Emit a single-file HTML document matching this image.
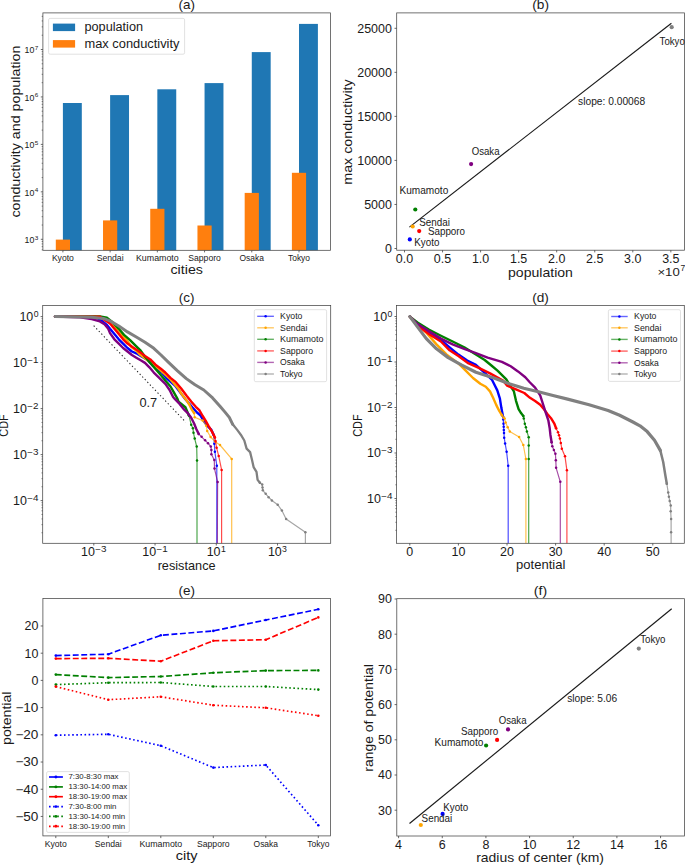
<!DOCTYPE html>
<html><head><meta charset="utf-8"><title>figure</title>
<style>
html,body{margin:0;padding:0;background:#fff;width:685px;height:865px;overflow:hidden;}
svg{display:block;}
text{font-family:"Liberation Sans",sans-serif;}
</style></head><body>
<svg width="685" height="865" viewBox="0 0 685 865">
<rect width="685" height="865" fill="#fff"/>
<rect x="62.90" y="103.00" width="18.90" height="147.30" fill="#1f77b4"/>
<rect x="110.12" y="95.10" width="18.90" height="155.20" fill="#1f77b4"/>
<rect x="157.34" y="89.30" width="18.90" height="161.00" fill="#1f77b4"/>
<rect x="204.56" y="83.10" width="18.90" height="167.20" fill="#1f77b4"/>
<rect x="251.78" y="52.10" width="18.90" height="198.20" fill="#1f77b4"/>
<rect x="299.00" y="23.90" width="18.90" height="226.40" fill="#1f77b4"/>
<rect x="55.80" y="239.60" width="14.20" height="10.70" fill="#ff7f0e"/>
<rect x="103.02" y="220.40" width="14.20" height="29.90" fill="#ff7f0e"/>
<rect x="150.24" y="208.80" width="14.20" height="41.50" fill="#ff7f0e"/>
<rect x="197.46" y="225.50" width="14.20" height="24.80" fill="#ff7f0e"/>
<rect x="244.68" y="192.90" width="14.20" height="57.40" fill="#ff7f0e"/>
<rect x="291.90" y="172.80" width="14.20" height="77.50" fill="#ff7f0e"/>
<rect x="42.90" y="12.90" width="287.60" height="237.40" fill="none" stroke="#444" stroke-width="0.75"/>
<line x1="40.80" y1="239.30" x2="42.90" y2="239.30" stroke="#444" stroke-width="0.80"/>
<line x1="40.80" y1="191.85" x2="42.90" y2="191.85" stroke="#444" stroke-width="0.80"/>
<line x1="40.80" y1="144.40" x2="42.90" y2="144.40" stroke="#444" stroke-width="0.80"/>
<line x1="40.80" y1="96.95" x2="42.90" y2="96.95" stroke="#444" stroke-width="0.80"/>
<line x1="40.80" y1="49.50" x2="42.90" y2="49.50" stroke="#444" stroke-width="0.80"/>
<line x1="41.70" y1="249.83" x2="42.90" y2="249.83" stroke="#444" stroke-width="0.70"/>
<line x1="41.70" y1="246.65" x2="42.90" y2="246.65" stroke="#444" stroke-width="0.70"/>
<line x1="41.70" y1="243.90" x2="42.90" y2="243.90" stroke="#444" stroke-width="0.70"/>
<line x1="41.70" y1="241.47" x2="42.90" y2="241.47" stroke="#444" stroke-width="0.70"/>
<line x1="41.70" y1="225.02" x2="42.90" y2="225.02" stroke="#444" stroke-width="0.70"/>
<line x1="41.70" y1="216.66" x2="42.90" y2="216.66" stroke="#444" stroke-width="0.70"/>
<line x1="41.70" y1="210.73" x2="42.90" y2="210.73" stroke="#444" stroke-width="0.70"/>
<line x1="41.70" y1="206.13" x2="42.90" y2="206.13" stroke="#444" stroke-width="0.70"/>
<line x1="41.70" y1="202.38" x2="42.90" y2="202.38" stroke="#444" stroke-width="0.70"/>
<line x1="41.70" y1="199.20" x2="42.90" y2="199.20" stroke="#444" stroke-width="0.70"/>
<line x1="41.70" y1="196.45" x2="42.90" y2="196.45" stroke="#444" stroke-width="0.70"/>
<line x1="41.70" y1="194.02" x2="42.90" y2="194.02" stroke="#444" stroke-width="0.70"/>
<line x1="41.70" y1="177.57" x2="42.90" y2="177.57" stroke="#444" stroke-width="0.70"/>
<line x1="41.70" y1="169.21" x2="42.90" y2="169.21" stroke="#444" stroke-width="0.70"/>
<line x1="41.70" y1="163.28" x2="42.90" y2="163.28" stroke="#444" stroke-width="0.70"/>
<line x1="41.70" y1="158.68" x2="42.90" y2="158.68" stroke="#444" stroke-width="0.70"/>
<line x1="41.70" y1="154.93" x2="42.90" y2="154.93" stroke="#444" stroke-width="0.70"/>
<line x1="41.70" y1="151.75" x2="42.90" y2="151.75" stroke="#444" stroke-width="0.70"/>
<line x1="41.70" y1="149.00" x2="42.90" y2="149.00" stroke="#444" stroke-width="0.70"/>
<line x1="41.70" y1="146.57" x2="42.90" y2="146.57" stroke="#444" stroke-width="0.70"/>
<line x1="41.70" y1="130.12" x2="42.90" y2="130.12" stroke="#444" stroke-width="0.70"/>
<line x1="41.70" y1="121.76" x2="42.90" y2="121.76" stroke="#444" stroke-width="0.70"/>
<line x1="41.70" y1="115.83" x2="42.90" y2="115.83" stroke="#444" stroke-width="0.70"/>
<line x1="41.70" y1="111.23" x2="42.90" y2="111.23" stroke="#444" stroke-width="0.70"/>
<line x1="41.70" y1="107.48" x2="42.90" y2="107.48" stroke="#444" stroke-width="0.70"/>
<line x1="41.70" y1="104.30" x2="42.90" y2="104.30" stroke="#444" stroke-width="0.70"/>
<line x1="41.70" y1="101.55" x2="42.90" y2="101.55" stroke="#444" stroke-width="0.70"/>
<line x1="41.70" y1="99.12" x2="42.90" y2="99.12" stroke="#444" stroke-width="0.70"/>
<line x1="41.70" y1="82.67" x2="42.90" y2="82.67" stroke="#444" stroke-width="0.70"/>
<line x1="41.70" y1="74.31" x2="42.90" y2="74.31" stroke="#444" stroke-width="0.70"/>
<line x1="41.70" y1="68.38" x2="42.90" y2="68.38" stroke="#444" stroke-width="0.70"/>
<line x1="41.70" y1="63.78" x2="42.90" y2="63.78" stroke="#444" stroke-width="0.70"/>
<line x1="41.70" y1="60.03" x2="42.90" y2="60.03" stroke="#444" stroke-width="0.70"/>
<line x1="41.70" y1="56.85" x2="42.90" y2="56.85" stroke="#444" stroke-width="0.70"/>
<line x1="41.70" y1="54.10" x2="42.90" y2="54.10" stroke="#444" stroke-width="0.70"/>
<line x1="41.70" y1="51.67" x2="42.90" y2="51.67" stroke="#444" stroke-width="0.70"/>
<line x1="41.70" y1="35.22" x2="42.90" y2="35.22" stroke="#444" stroke-width="0.70"/>
<line x1="41.70" y1="26.86" x2="42.90" y2="26.86" stroke="#444" stroke-width="0.70"/>
<line x1="41.70" y1="20.93" x2="42.90" y2="20.93" stroke="#444" stroke-width="0.70"/>
<line x1="41.70" y1="16.33" x2="42.90" y2="16.33" stroke="#444" stroke-width="0.70"/>
<text x="24.64" y="243.00" font-size="8.55" textLength="9.80" lengthAdjust="spacingAndGlyphs" fill="#1a1a1a">10</text>
<text x="34.67" y="239.77" font-size="6.15" textLength="3.53" lengthAdjust="spacingAndGlyphs" fill="#1a1a1a">3</text>
<text x="24.64" y="195.55" font-size="8.55" textLength="9.80" lengthAdjust="spacingAndGlyphs" fill="#1a1a1a">10</text>
<text x="34.67" y="192.32" font-size="6.15" textLength="3.53" lengthAdjust="spacingAndGlyphs" fill="#1a1a1a">4</text>
<text x="24.64" y="148.10" font-size="8.55" textLength="9.80" lengthAdjust="spacingAndGlyphs" fill="#1a1a1a">10</text>
<text x="34.67" y="144.87" font-size="6.15" textLength="3.53" lengthAdjust="spacingAndGlyphs" fill="#1a1a1a">5</text>
<text x="24.64" y="100.65" font-size="8.55" textLength="9.80" lengthAdjust="spacingAndGlyphs" fill="#1a1a1a">10</text>
<text x="34.67" y="97.42" font-size="6.15" textLength="3.53" lengthAdjust="spacingAndGlyphs" fill="#1a1a1a">6</text>
<text x="24.64" y="53.20" font-size="8.55" textLength="9.80" lengthAdjust="spacingAndGlyphs" fill="#1a1a1a">10</text>
<text x="34.67" y="49.97" font-size="6.15" textLength="3.53" lengthAdjust="spacingAndGlyphs" fill="#1a1a1a">7</text>
<line x1="62.90" y1="250.30" x2="62.90" y2="252.40" stroke="#444" stroke-width="0.80"/>
<line x1="110.12" y1="250.30" x2="110.12" y2="252.40" stroke="#444" stroke-width="0.80"/>
<line x1="157.34" y1="250.30" x2="157.34" y2="252.40" stroke="#444" stroke-width="0.80"/>
<line x1="204.56" y1="250.30" x2="204.56" y2="252.40" stroke="#444" stroke-width="0.80"/>
<line x1="251.78" y1="250.30" x2="251.78" y2="252.40" stroke="#444" stroke-width="0.80"/>
<line x1="299.00" y1="250.30" x2="299.00" y2="252.40" stroke="#444" stroke-width="0.80"/>
<text x="62.90" y="260.80" font-size="8.77" textLength="22.05" lengthAdjust="spacingAndGlyphs" text-anchor="middle" fill="#1a1a1a">Kyoto</text>
<text x="110.12" y="260.80" font-size="8.77" textLength="26.93" lengthAdjust="spacingAndGlyphs" text-anchor="middle" fill="#1a1a1a">Sendai</text>
<text x="157.34" y="260.80" font-size="8.77" textLength="42.79" lengthAdjust="spacingAndGlyphs" text-anchor="middle" fill="#1a1a1a">Kumamoto</text>
<text x="204.56" y="260.80" font-size="8.77" textLength="32.63" lengthAdjust="spacingAndGlyphs" text-anchor="middle" fill="#1a1a1a">Sapporo</text>
<text x="251.78" y="260.80" font-size="8.77" textLength="24.45" lengthAdjust="spacingAndGlyphs" text-anchor="middle" fill="#1a1a1a">Osaka</text>
<text x="299.00" y="260.80" font-size="8.77" textLength="22.12" lengthAdjust="spacingAndGlyphs" text-anchor="middle" fill="#1a1a1a">Tokyo</text>
<text x="186.70" y="273.60" font-size="13.65" textLength="32.40" lengthAdjust="spacingAndGlyphs" text-anchor="middle" fill="#1a1a1a">cities</text>
<text x="19.80" y="131.60" font-size="13.65" textLength="171.90" lengthAdjust="spacingAndGlyphs" text-anchor="middle" transform="rotate(-90 19.80 131.60)" fill="#1a1a1a">conductivity and population</text>
<text x="186.70" y="9.10" font-size="13.10" textLength="16.44" lengthAdjust="spacingAndGlyphs" text-anchor="middle" fill="#1a1a1a">(a)</text>
<rect x="48.60" y="18.40" width="136.00" height="35.80" rx="1.5" fill="#fff" fill-opacity="0.8" stroke="#d9d9d9" stroke-width="0.8"/>
<rect x="52.90" y="23.60" width="22.20" height="7.50" fill="#1f77b4"/>
<rect x="52.90" y="40.10" width="22.20" height="7.50" fill="#ff7f0e"/>
<text x="84.50" y="31.30" font-size="12.21" textLength="58.53" lengthAdjust="spacingAndGlyphs" fill="#1a1a1a">population</text>
<text x="84.50" y="47.90" font-size="12.21" textLength="94.97" lengthAdjust="spacingAndGlyphs" fill="#1a1a1a">max conductivity</text>
<rect x="396.70" y="12.90" width="287.70" height="237.30" fill="none" stroke="#444" stroke-width="0.75"/>
<line x1="394.50" y1="248.50" x2="396.70" y2="248.50" stroke="#444" stroke-width="0.80"/>
<line x1="394.50" y1="204.46" x2="396.70" y2="204.46" stroke="#444" stroke-width="0.80"/>
<line x1="394.50" y1="160.42" x2="396.70" y2="160.42" stroke="#444" stroke-width="0.80"/>
<line x1="394.50" y1="116.38" x2="396.70" y2="116.38" stroke="#444" stroke-width="0.80"/>
<line x1="394.50" y1="72.34" x2="396.70" y2="72.34" stroke="#444" stroke-width="0.80"/>
<line x1="394.50" y1="28.30" x2="396.70" y2="28.30" stroke="#444" stroke-width="0.80"/>
<text x="391.90" y="252.90" font-size="12.10" textLength="6.94" lengthAdjust="spacingAndGlyphs" text-anchor="end" fill="#1a1a1a">0</text>
<text x="391.90" y="208.86" font-size="12.10" textLength="27.74" lengthAdjust="spacingAndGlyphs" text-anchor="end" fill="#1a1a1a">5000</text>
<text x="391.90" y="164.82" font-size="12.10" textLength="34.68" lengthAdjust="spacingAndGlyphs" text-anchor="end" fill="#1a1a1a">10000</text>
<text x="391.90" y="120.78" font-size="12.10" textLength="34.68" lengthAdjust="spacingAndGlyphs" text-anchor="end" fill="#1a1a1a">15000</text>
<text x="391.90" y="76.74" font-size="12.10" textLength="34.68" lengthAdjust="spacingAndGlyphs" text-anchor="end" fill="#1a1a1a">20000</text>
<text x="391.90" y="32.70" font-size="12.10" textLength="34.68" lengthAdjust="spacingAndGlyphs" text-anchor="end" fill="#1a1a1a">25000</text>
<line x1="404.50" y1="250.20" x2="404.50" y2="252.40" stroke="#444" stroke-width="0.80"/>
<line x1="442.55" y1="250.20" x2="442.55" y2="252.40" stroke="#444" stroke-width="0.80"/>
<line x1="480.60" y1="250.20" x2="480.60" y2="252.40" stroke="#444" stroke-width="0.80"/>
<line x1="518.65" y1="250.20" x2="518.65" y2="252.40" stroke="#444" stroke-width="0.80"/>
<line x1="556.70" y1="250.20" x2="556.70" y2="252.40" stroke="#444" stroke-width="0.80"/>
<line x1="594.75" y1="250.20" x2="594.75" y2="252.40" stroke="#444" stroke-width="0.80"/>
<line x1="632.80" y1="250.20" x2="632.80" y2="252.40" stroke="#444" stroke-width="0.80"/>
<line x1="670.85" y1="250.20" x2="670.85" y2="252.40" stroke="#444" stroke-width="0.80"/>
<text x="404.50" y="263.40" font-size="12.10" textLength="17.34" lengthAdjust="spacingAndGlyphs" text-anchor="middle" fill="#1a1a1a">0.0</text>
<text x="442.55" y="263.40" font-size="12.10" textLength="17.34" lengthAdjust="spacingAndGlyphs" text-anchor="middle" fill="#1a1a1a">0.5</text>
<text x="480.60" y="263.40" font-size="12.10" textLength="17.34" lengthAdjust="spacingAndGlyphs" text-anchor="middle" fill="#1a1a1a">1.0</text>
<text x="518.65" y="263.40" font-size="12.10" textLength="17.34" lengthAdjust="spacingAndGlyphs" text-anchor="middle" fill="#1a1a1a">1.5</text>
<text x="556.70" y="263.40" font-size="12.10" textLength="17.34" lengthAdjust="spacingAndGlyphs" text-anchor="middle" fill="#1a1a1a">2.0</text>
<text x="594.75" y="263.40" font-size="12.10" textLength="17.34" lengthAdjust="spacingAndGlyphs" text-anchor="middle" fill="#1a1a1a">2.5</text>
<text x="632.80" y="263.40" font-size="12.10" textLength="17.34" lengthAdjust="spacingAndGlyphs" text-anchor="middle" fill="#1a1a1a">3.0</text>
<text x="670.85" y="263.40" font-size="12.10" textLength="17.34" lengthAdjust="spacingAndGlyphs" text-anchor="middle" fill="#1a1a1a">3.5</text>
<text x="540.50" y="276.90" font-size="13.54" textLength="64.92" lengthAdjust="spacingAndGlyphs" text-anchor="middle" fill="#1a1a1a">population</text>
<text x="351.80" y="132.00" font-size="13.54" textLength="105.33" lengthAdjust="spacingAndGlyphs" text-anchor="middle" transform="rotate(-90 351.80 132.00)" fill="#1a1a1a">max conductivity</text>
<text x="540.60" y="9.10" font-size="13.10" textLength="16.70" lengthAdjust="spacingAndGlyphs" text-anchor="middle" fill="#1a1a1a">(b)</text>
<text x="657.40" y="275.80" font-size="11.77" textLength="22.37" lengthAdjust="spacingAndGlyphs" fill="#1a1a1a">×10</text>
<text x="680.40" y="271.40" font-size="8.21" textLength="4.71" lengthAdjust="spacingAndGlyphs" fill="#1a1a1a">7</text>
<line x1="409.40" y1="227.10" x2="671.40" y2="23.20" stroke="#1a1a1a" stroke-width="1.15"/>
<circle cx="409.8" cy="239.4" r="2.10" fill="#0000ff"/>
<circle cx="412.7" cy="226.5" r="2.10" fill="#ffa500"/>
<circle cx="415.3" cy="209.5" r="2.10" fill="#008000"/>
<circle cx="419.2" cy="231.1" r="2.10" fill="#ff0000"/>
<circle cx="471.1" cy="164.1" r="2.10" fill="#800080"/>
<circle cx="671.7" cy="27.2" r="2.10" fill="#808080"/>
<text x="414.30" y="245.50" font-size="9.99" textLength="25.11" lengthAdjust="spacingAndGlyphs" fill="#1a1a1a">Kyoto</text>
<text x="419.20" y="226.30" font-size="9.99" textLength="30.68" lengthAdjust="spacingAndGlyphs" fill="#1a1a1a">Sendai</text>
<text x="399.50" y="194.00" font-size="9.99" textLength="48.75" lengthAdjust="spacingAndGlyphs" fill="#1a1a1a">Kumamoto</text>
<text x="427.90" y="234.70" font-size="9.99" textLength="37.17" lengthAdjust="spacingAndGlyphs" fill="#1a1a1a">Sapporo</text>
<text x="471.70" y="155.30" font-size="9.99" textLength="27.86" lengthAdjust="spacingAndGlyphs" fill="#1a1a1a">Osaka</text>
<text x="659.60" y="44.80" font-size="9.99" textLength="25.20" lengthAdjust="spacingAndGlyphs" fill="#1a1a1a">Tokyo</text>
<text x="578.10" y="104.70" font-size="9.99" textLength="67.06" lengthAdjust="spacingAndGlyphs" fill="#1a1a1a">slope: 0.00068</text>
<defs><clipPath id="cc"><rect x="42.70" y="305.60" width="288.00" height="237.70"/></clipPath><clipPath id="cd"><rect x="396.60" y="305.60" width="287.70" height="237.70"/></clipPath></defs>
<g clip-path="url(#cc)">
<polyline points="55.0,316.6 95.0,316.9 101.0,320.2 106.9,324.9 110.0,328.8 114.4,334.0 118.8,339.3 123.1,343.6 127.5,348.0 131.9,351.5 136.3,353.3 140.7,355.9 146.8,359.4 152.0,364.7 157.3,369.0 162.6,373.4 166.1,377.8 175.0,385.5 185.4,399.2 192.3,407.3 197.0,412.5 200.4,415.4 203.9,421.2 207.4,425.8 211.4,429.9 213.7,435.1" fill="none" stroke="#0000ff" stroke-width="2.40" stroke-linejoin="round" stroke-linecap="round"/>
<polyline points="213.7,435.1 214.3,443.8 214.9,451.8 216.8,465.7 216.8,544.0" fill="none" stroke="#0000ff" stroke-width="1.20" stroke-linejoin="round" stroke-linecap="round" stroke-opacity="0.7"/>
<circle cx="213.7" cy="435.1" r="1.25" fill="#0000ff"/>
<circle cx="214.3" cy="443.8" r="1.25" fill="#0000ff"/>
<circle cx="214.9" cy="451.8" r="1.25" fill="#0000ff"/>
<circle cx="216.8" cy="465.7" r="1.25" fill="#0000ff"/>
<polyline points="55.0,316.6 100.0,316.9 110.4,322.5 115.0,327.2 119.7,333.0 126.7,340.0 131.4,347.0 136.1,350.5 140.0,354.6 157.5,367.7 169.2,378.0 178.0,388.2 181.9,394.6 186.6,400.4 189.5,405.0 191.8,409.7 194.1,413.1" fill="none" stroke="#ffa500" stroke-width="2.40" stroke-linejoin="round" stroke-linecap="round"/>
<polyline points="194.1,413.1 194.7,417.2 202.7,420.6 206.2,425.7 207.2,431.0 210.6,437.0 215.5,442.0 220.0,445.0 231.7,458.9 231.7,544.0" fill="none" stroke="#ffa500" stroke-width="1.20" stroke-linejoin="round" stroke-linecap="round" stroke-opacity="0.7"/>
<circle cx="194.1" cy="413.1" r="1.25" fill="#ffa500"/>
<circle cx="194.7" cy="417.2" r="1.25" fill="#ffa500"/>
<circle cx="202.7" cy="420.6" r="1.25" fill="#ffa500"/>
<circle cx="206.2" cy="425.7" r="1.25" fill="#ffa500"/>
<circle cx="207.2" cy="431.0" r="1.25" fill="#ffa500"/>
<circle cx="210.6" cy="437.0" r="1.25" fill="#ffa500"/>
<circle cx="215.5" cy="442.0" r="1.25" fill="#ffa500"/>
<circle cx="220.0" cy="445.0" r="1.25" fill="#ffa500"/>
<circle cx="231.7" cy="458.9" r="1.25" fill="#ffa500"/>
<polyline points="55.0,316.6 99.9,316.4 106.9,317.8 111.5,321.4 118.8,328.8 124.0,334.9 130.1,340.1 136.3,346.3 140.7,350.7 145.0,356.8 150.3,362.9 155.5,369.0 160.8,375.0 165.3,380.4 170.5,386.5 174.0,392.7 177.5,398.8 178.5,401.6 185.4,407.3 188.9,415.4" fill="none" stroke="#008000" stroke-width="2.40" stroke-linejoin="round" stroke-linecap="round"/>
<polyline points="188.9,415.4 191.2,424.7 192.9,428.2 193.5,432.8 194.7,438.6 196.7,446.6 197.0,460.5 197.0,544.0" fill="none" stroke="#008000" stroke-width="1.20" stroke-linejoin="round" stroke-linecap="round" stroke-opacity="0.7"/>
<circle cx="188.9" cy="415.4" r="1.25" fill="#008000"/>
<circle cx="191.2" cy="424.7" r="1.25" fill="#008000"/>
<circle cx="192.9" cy="428.2" r="1.25" fill="#008000"/>
<circle cx="193.5" cy="432.8" r="1.25" fill="#008000"/>
<circle cx="194.7" cy="438.6" r="1.25" fill="#008000"/>
<circle cx="196.7" cy="446.6" r="1.25" fill="#008000"/>
<circle cx="197.0" cy="460.5" r="1.25" fill="#008000"/>
<polyline points="55.0,316.6 100.0,316.8 105.7,320.8 110.0,323.5 114.4,328.8 118.8,334.0 123.1,339.3 127.5,343.6 132.8,347.2 138.0,350.7 145.0,355.9 150.3,359.4 155.5,364.7 160.8,368.7 165.3,372.5 170.5,377.8 175.8,382.2 181.0,388.3 186.6,395.8 186.6,395.8 191.2,401.6 195.8,406.8 199.3,410.2 202.7,416.0 205.6,420.6 208.5,425.8 212.0,431.6 214.9,437.4" fill="none" stroke="#ff0000" stroke-width="2.40" stroke-linejoin="round" stroke-linecap="round"/>
<polyline points="214.9,437.4 215.5,440.9 216.6,447.8 218.7,455.9 221.6,469.9 221.6,544.0" fill="none" stroke="#ff0000" stroke-width="1.20" stroke-linejoin="round" stroke-linecap="round" stroke-opacity="0.7"/>
<circle cx="214.9" cy="437.4" r="1.25" fill="#ff0000"/>
<circle cx="215.5" cy="440.9" r="1.25" fill="#ff0000"/>
<circle cx="216.6" cy="447.8" r="1.25" fill="#ff0000"/>
<circle cx="218.7" cy="455.9" r="1.25" fill="#ff0000"/>
<circle cx="221.6" cy="469.9" r="1.25" fill="#ff0000"/>
<polyline points="55.0,316.6 80.0,317.3 91.7,319.0 99.9,321.4 104.5,324.3 108.0,328.4 110.0,333.1 114.4,339.3 118.8,343.6 123.1,348.0 127.5,351.5 131.9,355.0 136.3,357.7 140.7,360.3 145.0,362.9 149.4,367.3 153.8,372.6 158.2,376.9 165.3,383.9 169.6,390.0 173.1,397.0 175.0,399.2 179.6,403.9 184.2,409.7 187.7,413.1 191.2,417.7 194.1,423.5 196.4,429.3 198.7,433.9" fill="none" stroke="#800080" stroke-width="2.40" stroke-linejoin="round" stroke-linecap="round"/>
<polyline points="198.7,433.9 201.6,436.8 205.1,440.3 208.0,443.2 210.8,446.6 211.4,450.1 211.4,454.2 214.3,459.9 214.5,468.6 217.6,481.9 217.3,544.0" fill="none" stroke="#800080" stroke-width="1.20" stroke-linejoin="round" stroke-linecap="round" stroke-opacity="0.7"/>
<circle cx="198.7" cy="433.9" r="1.25" fill="#800080"/>
<circle cx="201.6" cy="436.8" r="1.25" fill="#800080"/>
<circle cx="205.1" cy="440.3" r="1.25" fill="#800080"/>
<circle cx="208.0" cy="443.2" r="1.25" fill="#800080"/>
<circle cx="210.8" cy="446.6" r="1.25" fill="#800080"/>
<circle cx="211.4" cy="450.1" r="1.25" fill="#800080"/>
<circle cx="211.4" cy="454.2" r="1.25" fill="#800080"/>
<circle cx="214.3" cy="459.9" r="1.25" fill="#800080"/>
<circle cx="214.5" cy="468.6" r="1.25" fill="#800080"/>
<circle cx="217.6" cy="481.9" r="1.25" fill="#800080"/>
<polyline points="55.2,316.6 91.7,317.2 103.4,318.4 110.0,320.9 118.8,326.0 127.5,331.9 136.3,337.0 145.0,342.3 153.8,348.3 161.0,355.0 168.8,362.6 177.5,370.8 186.3,378.6 195.0,384.8 203.8,390.0 212.6,397.9 220.0,406.2 224.6,411.6 229.3,417.4 232.7,424.3" fill="none" stroke="#808080" stroke-width="3.00" stroke-linejoin="round" stroke-linecap="round"/>
<polyline points="232.7,424.3 237.4,430.1 240.8,434.7 244.3,440.5 246.6,448.6 250.1,452.1 251.8,459.0 253.6,467.1 256.5,471.8 257.6,479.9 259.9,482.8" fill="none" stroke="#808080" stroke-width="2.30" stroke-linejoin="round" stroke-linecap="round"/>
<polyline points="259.9,482.8 262.2,484.5 262.5,487.5 262.8,490.3 265.7,493.8 268.6,497.2 271.9,500.5 277.7,504.7 281.9,510.6 286.1,518.9 305.4,532.3 305.4,544.0" fill="none" stroke="#808080" stroke-width="1.20" stroke-linejoin="round" stroke-linecap="round" stroke-opacity="0.7"/>
<circle cx="259.9" cy="482.8" r="1.25" fill="#808080"/>
<circle cx="262.2" cy="484.5" r="1.25" fill="#808080"/>
<circle cx="262.5" cy="487.5" r="1.25" fill="#808080"/>
<circle cx="262.8" cy="490.3" r="1.25" fill="#808080"/>
<circle cx="265.7" cy="493.8" r="1.25" fill="#808080"/>
<circle cx="268.6" cy="497.2" r="1.25" fill="#808080"/>
<circle cx="271.9" cy="500.5" r="1.25" fill="#808080"/>
<circle cx="277.7" cy="504.7" r="1.25" fill="#808080"/>
<circle cx="281.9" cy="510.6" r="1.25" fill="#808080"/>
<circle cx="286.1" cy="518.9" r="1.25" fill="#808080"/>
<circle cx="305.4" cy="532.3" r="1.25" fill="#808080"/>
<line x1="93.70" y1="325.70" x2="185.80" y2="422.20" stroke="#222" stroke-width="1.05" stroke-dasharray="1.3 2.4"/>
</g>
<text x="139.40" y="406.80" font-size="12.43" textLength="17.81" lengthAdjust="spacingAndGlyphs" fill="#1a1a1a">0.7</text>
<rect x="42.70" y="305.60" width="288.00" height="237.70" fill="none" stroke="#444" stroke-width="0.75"/>
<line x1="40.60" y1="500.60" x2="42.70" y2="500.60" stroke="#444" stroke-width="0.80"/>
<line x1="40.60" y1="454.60" x2="42.70" y2="454.60" stroke="#444" stroke-width="0.80"/>
<line x1="40.60" y1="408.60" x2="42.70" y2="408.60" stroke="#444" stroke-width="0.80"/>
<line x1="40.60" y1="362.60" x2="42.70" y2="362.60" stroke="#444" stroke-width="0.80"/>
<line x1="40.60" y1="316.60" x2="42.70" y2="316.60" stroke="#444" stroke-width="0.80"/>
<line x1="41.50" y1="532.75" x2="42.70" y2="532.75" stroke="#444" stroke-width="0.70"/>
<line x1="41.50" y1="524.65" x2="42.70" y2="524.65" stroke="#444" stroke-width="0.70"/>
<line x1="41.50" y1="518.91" x2="42.70" y2="518.91" stroke="#444" stroke-width="0.70"/>
<line x1="41.50" y1="514.45" x2="42.70" y2="514.45" stroke="#444" stroke-width="0.70"/>
<line x1="41.50" y1="510.81" x2="42.70" y2="510.81" stroke="#444" stroke-width="0.70"/>
<line x1="41.50" y1="507.73" x2="42.70" y2="507.73" stroke="#444" stroke-width="0.70"/>
<line x1="41.50" y1="505.06" x2="42.70" y2="505.06" stroke="#444" stroke-width="0.70"/>
<line x1="41.50" y1="502.70" x2="42.70" y2="502.70" stroke="#444" stroke-width="0.70"/>
<line x1="41.50" y1="486.75" x2="42.70" y2="486.75" stroke="#444" stroke-width="0.70"/>
<line x1="41.50" y1="478.65" x2="42.70" y2="478.65" stroke="#444" stroke-width="0.70"/>
<line x1="41.50" y1="472.91" x2="42.70" y2="472.91" stroke="#444" stroke-width="0.70"/>
<line x1="41.50" y1="468.45" x2="42.70" y2="468.45" stroke="#444" stroke-width="0.70"/>
<line x1="41.50" y1="464.81" x2="42.70" y2="464.81" stroke="#444" stroke-width="0.70"/>
<line x1="41.50" y1="461.73" x2="42.70" y2="461.73" stroke="#444" stroke-width="0.70"/>
<line x1="41.50" y1="459.06" x2="42.70" y2="459.06" stroke="#444" stroke-width="0.70"/>
<line x1="41.50" y1="456.70" x2="42.70" y2="456.70" stroke="#444" stroke-width="0.70"/>
<line x1="41.50" y1="440.75" x2="42.70" y2="440.75" stroke="#444" stroke-width="0.70"/>
<line x1="41.50" y1="432.65" x2="42.70" y2="432.65" stroke="#444" stroke-width="0.70"/>
<line x1="41.50" y1="426.91" x2="42.70" y2="426.91" stroke="#444" stroke-width="0.70"/>
<line x1="41.50" y1="422.45" x2="42.70" y2="422.45" stroke="#444" stroke-width="0.70"/>
<line x1="41.50" y1="418.81" x2="42.70" y2="418.81" stroke="#444" stroke-width="0.70"/>
<line x1="41.50" y1="415.73" x2="42.70" y2="415.73" stroke="#444" stroke-width="0.70"/>
<line x1="41.50" y1="413.06" x2="42.70" y2="413.06" stroke="#444" stroke-width="0.70"/>
<line x1="41.50" y1="410.70" x2="42.70" y2="410.70" stroke="#444" stroke-width="0.70"/>
<line x1="41.50" y1="394.75" x2="42.70" y2="394.75" stroke="#444" stroke-width="0.70"/>
<line x1="41.50" y1="386.65" x2="42.70" y2="386.65" stroke="#444" stroke-width="0.70"/>
<line x1="41.50" y1="380.91" x2="42.70" y2="380.91" stroke="#444" stroke-width="0.70"/>
<line x1="41.50" y1="376.45" x2="42.70" y2="376.45" stroke="#444" stroke-width="0.70"/>
<line x1="41.50" y1="372.81" x2="42.70" y2="372.81" stroke="#444" stroke-width="0.70"/>
<line x1="41.50" y1="369.73" x2="42.70" y2="369.73" stroke="#444" stroke-width="0.70"/>
<line x1="41.50" y1="367.06" x2="42.70" y2="367.06" stroke="#444" stroke-width="0.70"/>
<line x1="41.50" y1="364.70" x2="42.70" y2="364.70" stroke="#444" stroke-width="0.70"/>
<line x1="41.50" y1="348.75" x2="42.70" y2="348.75" stroke="#444" stroke-width="0.70"/>
<line x1="41.50" y1="340.65" x2="42.70" y2="340.65" stroke="#444" stroke-width="0.70"/>
<line x1="41.50" y1="334.91" x2="42.70" y2="334.91" stroke="#444" stroke-width="0.70"/>
<line x1="41.50" y1="330.45" x2="42.70" y2="330.45" stroke="#444" stroke-width="0.70"/>
<line x1="41.50" y1="326.81" x2="42.70" y2="326.81" stroke="#444" stroke-width="0.70"/>
<line x1="41.50" y1="323.73" x2="42.70" y2="323.73" stroke="#444" stroke-width="0.70"/>
<line x1="41.50" y1="321.06" x2="42.70" y2="321.06" stroke="#444" stroke-width="0.70"/>
<line x1="41.50" y1="318.70" x2="42.70" y2="318.70" stroke="#444" stroke-width="0.70"/>
<text x="13.06" y="504.90" font-size="12.10" textLength="13.87" lengthAdjust="spacingAndGlyphs" fill="#1a1a1a">10</text>
<text x="27.25" y="500.76" font-size="8.47" textLength="11.25" lengthAdjust="spacingAndGlyphs" fill="#1a1a1a">−4</text>
<text x="13.06" y="458.90" font-size="12.10" textLength="13.87" lengthAdjust="spacingAndGlyphs" fill="#1a1a1a">10</text>
<text x="27.25" y="454.76" font-size="8.47" textLength="11.25" lengthAdjust="spacingAndGlyphs" fill="#1a1a1a">−3</text>
<text x="13.06" y="412.90" font-size="12.10" textLength="13.87" lengthAdjust="spacingAndGlyphs" fill="#1a1a1a">10</text>
<text x="27.25" y="408.76" font-size="8.47" textLength="11.25" lengthAdjust="spacingAndGlyphs" fill="#1a1a1a">−2</text>
<text x="13.06" y="366.90" font-size="12.10" textLength="13.87" lengthAdjust="spacingAndGlyphs" fill="#1a1a1a">10</text>
<text x="27.25" y="362.76" font-size="8.47" textLength="11.25" lengthAdjust="spacingAndGlyphs" fill="#1a1a1a">−1</text>
<text x="19.45" y="320.90" font-size="12.10" textLength="13.87" lengthAdjust="spacingAndGlyphs" fill="#1a1a1a">10</text>
<text x="33.65" y="316.76" font-size="8.47" textLength="4.85" lengthAdjust="spacingAndGlyphs" fill="#1a1a1a">0</text>
<line x1="93.80" y1="543.30" x2="93.80" y2="545.50" stroke="#444" stroke-width="0.80"/>
<line x1="155.04" y1="543.30" x2="155.04" y2="545.50" stroke="#444" stroke-width="0.80"/>
<line x1="216.28" y1="543.30" x2="216.28" y2="545.50" stroke="#444" stroke-width="0.80"/>
<line x1="277.52" y1="543.30" x2="277.52" y2="545.50" stroke="#444" stroke-width="0.80"/>
<text x="81.02" y="556.30" font-size="12.10" textLength="13.87" lengthAdjust="spacingAndGlyphs" fill="#1a1a1a">10</text>
<text x="95.22" y="552.16" font-size="8.47" textLength="11.25" lengthAdjust="spacingAndGlyphs" fill="#1a1a1a">−3</text>
<text x="142.26" y="556.30" font-size="12.10" textLength="13.87" lengthAdjust="spacingAndGlyphs" fill="#1a1a1a">10</text>
<text x="156.46" y="552.16" font-size="8.47" textLength="11.25" lengthAdjust="spacingAndGlyphs" fill="#1a1a1a">−1</text>
<text x="206.70" y="556.30" font-size="12.10" textLength="13.87" lengthAdjust="spacingAndGlyphs" fill="#1a1a1a">10</text>
<text x="220.90" y="552.16" font-size="8.47" textLength="4.85" lengthAdjust="spacingAndGlyphs" fill="#1a1a1a">1</text>
<text x="267.94" y="556.30" font-size="12.10" textLength="13.87" lengthAdjust="spacingAndGlyphs" fill="#1a1a1a">10</text>
<text x="282.14" y="552.16" font-size="8.47" textLength="4.85" lengthAdjust="spacingAndGlyphs" fill="#1a1a1a">3</text>
<text x="186.60" y="569.90" font-size="12.54" textLength="57.95" lengthAdjust="spacingAndGlyphs" text-anchor="middle" fill="#1a1a1a">resistance</text>
<text x="8.30" y="425.50" font-size="12.21" textLength="22.48" lengthAdjust="spacingAndGlyphs" text-anchor="middle" transform="rotate(-90 8.30 425.50)" fill="#1a1a1a">CDF</text>
<text x="186.70" y="302.00" font-size="13.10" textLength="15.70" lengthAdjust="spacingAndGlyphs" text-anchor="middle" fill="#1a1a1a">(c)</text>
<rect x="254.30" y="309.70" width="72.30" height="72.00" rx="1.5" fill="#fff" fill-opacity="0.8" stroke="#d9d9d9" stroke-width="0.8"/>
<line x1="257.20" y1="316.30" x2="273.90" y2="316.30" stroke="#0000ff" stroke-width="1.40" stroke-opacity="0.60"/>
<circle cx="265.6" cy="316.3" r="1.25" fill="#0000ff"/>
<text x="280.10" y="319.18" font-size="8.88" textLength="22.32" lengthAdjust="spacingAndGlyphs" fill="#1a1a1a">Kyoto</text>
<line x1="257.20" y1="327.80" x2="273.90" y2="327.80" stroke="#ffa500" stroke-width="1.40" stroke-opacity="0.60"/>
<circle cx="265.6" cy="327.8" r="1.25" fill="#ffa500"/>
<text x="280.10" y="330.68" font-size="8.88" textLength="27.27" lengthAdjust="spacingAndGlyphs" fill="#1a1a1a">Sendai</text>
<line x1="257.20" y1="339.30" x2="273.90" y2="339.30" stroke="#008000" stroke-width="1.40" stroke-opacity="0.60"/>
<circle cx="265.6" cy="339.3" r="1.25" fill="#008000"/>
<text x="280.10" y="342.18" font-size="8.88" textLength="43.33" lengthAdjust="spacingAndGlyphs" fill="#1a1a1a">Kumamoto</text>
<line x1="257.20" y1="350.90" x2="273.90" y2="350.90" stroke="#ff0000" stroke-width="1.40" stroke-opacity="0.60"/>
<circle cx="265.6" cy="350.9" r="1.25" fill="#ff0000"/>
<text x="280.10" y="353.78" font-size="8.88" textLength="33.04" lengthAdjust="spacingAndGlyphs" fill="#1a1a1a">Sapporo</text>
<line x1="257.20" y1="362.40" x2="273.90" y2="362.40" stroke="#800080" stroke-width="1.40" stroke-opacity="0.60"/>
<circle cx="265.6" cy="362.4" r="1.25" fill="#800080"/>
<text x="280.10" y="365.28" font-size="8.88" textLength="24.76" lengthAdjust="spacingAndGlyphs" fill="#1a1a1a">Osaka</text>
<line x1="257.20" y1="374.00" x2="273.90" y2="374.00" stroke="#808080" stroke-width="1.40" stroke-opacity="0.60"/>
<circle cx="265.6" cy="374.0" r="1.25" fill="#808080"/>
<text x="280.10" y="376.88" font-size="8.88" textLength="22.40" lengthAdjust="spacingAndGlyphs" fill="#1a1a1a">Tokyo</text>
<g clip-path="url(#cd)">
<polyline points="409.9,316.6 417.5,324.0 429.2,332.7 440.9,340.0 449.6,347.3 458.4,354.6 467.2,360.5 475.9,364.9 484.7,372.8 492.1,380.0 493.6,383.1 497.3,390.4 499.9,398.7 501.4,408.1 503.0,416.4" fill="none" stroke="#0000ff" stroke-width="2.40" stroke-linejoin="round" stroke-linecap="round"/>
<polyline points="503.0,416.4 503.3,419.5 503.5,423.7 503.7,426.8 503.8,429.9 504.0,433.0 504.2,437.7 505.1,443.4 506.6,451.7 508.2,465.8 508.2,544.0" fill="none" stroke="#0000ff" stroke-width="1.20" stroke-linejoin="round" stroke-linecap="round" stroke-opacity="0.7"/>
<circle cx="503.0" cy="416.4" r="1.25" fill="#0000ff"/>
<circle cx="503.3" cy="419.5" r="1.25" fill="#0000ff"/>
<circle cx="503.5" cy="423.7" r="1.25" fill="#0000ff"/>
<circle cx="503.7" cy="426.8" r="1.25" fill="#0000ff"/>
<circle cx="503.8" cy="429.9" r="1.25" fill="#0000ff"/>
<circle cx="504.0" cy="433.0" r="1.25" fill="#0000ff"/>
<circle cx="504.2" cy="437.7" r="1.25" fill="#0000ff"/>
<circle cx="505.1" cy="443.4" r="1.25" fill="#0000ff"/>
<circle cx="506.6" cy="451.7" r="1.25" fill="#0000ff"/>
<circle cx="508.2" cy="465.8" r="1.25" fill="#0000ff"/>
<polyline points="409.9,316.6 417.5,324.7 426.3,332.7 436.5,344.4 446.7,354.6 458.4,363.4 465.7,370.7 473.0,378.0 480.3,383.8 485.8,386.7 490.0,391.4 493.1,397.7 496.2,404.9 499.4,411.2 502.0,415.3" fill="none" stroke="#ffa500" stroke-width="2.40" stroke-linejoin="round" stroke-linecap="round"/>
<polyline points="502.0,415.3 503.5,417.4 504.6,418.5 505.6,422.6 507.7,427.3 509.8,431.5 519.1,437.0 523.3,445.0 525.9,459.0 525.9,544.0" fill="none" stroke="#ffa500" stroke-width="1.20" stroke-linejoin="round" stroke-linecap="round" stroke-opacity="0.7"/>
<circle cx="502.0" cy="415.3" r="1.25" fill="#ffa500"/>
<circle cx="503.5" cy="417.4" r="1.25" fill="#ffa500"/>
<circle cx="504.6" cy="418.5" r="1.25" fill="#ffa500"/>
<circle cx="505.6" cy="422.6" r="1.25" fill="#ffa500"/>
<circle cx="507.7" cy="427.3" r="1.25" fill="#ffa500"/>
<circle cx="509.8" cy="431.5" r="1.25" fill="#ffa500"/>
<circle cx="519.1" cy="437.0" r="1.25" fill="#ffa500"/>
<circle cx="523.3" cy="445.0" r="1.25" fill="#ffa500"/>
<circle cx="525.9" cy="459.0" r="1.25" fill="#ffa500"/>
<polyline points="409.9,316.6 417.5,322.5 429.2,329.8 440.9,335.7 452.6,341.5 464.2,347.3 475.9,354.6 484.7,360.0 492.0,366.0 497.5,370.7 506.3,379.4 509.2,384.2 513.9,391.4 516.0,400.8 518.6,409.1 521.2,413.3 523.3,415.9" fill="none" stroke="#008000" stroke-width="2.40" stroke-linejoin="round" stroke-linecap="round"/>
<polyline points="523.3,415.9 523.8,418.5 524.8,423.7 525.9,427.3 526.9,431.5 528.7,437.2 528.7,445.5 528.7,459.0 528.7,544.0" fill="none" stroke="#008000" stroke-width="1.20" stroke-linejoin="round" stroke-linecap="round" stroke-opacity="0.7"/>
<circle cx="523.3" cy="415.9" r="1.25" fill="#008000"/>
<circle cx="523.8" cy="418.5" r="1.25" fill="#008000"/>
<circle cx="524.8" cy="423.7" r="1.25" fill="#008000"/>
<circle cx="525.9" cy="427.3" r="1.25" fill="#008000"/>
<circle cx="526.9" cy="431.5" r="1.25" fill="#008000"/>
<circle cx="528.7" cy="437.2" r="1.25" fill="#008000"/>
<circle cx="528.7" cy="445.5" r="1.25" fill="#008000"/>
<circle cx="528.7" cy="459.0" r="1.25" fill="#008000"/>
<polyline points="409.9,316.6 417.5,325.4 429.2,334.2 440.9,341.5 449.6,350.3 458.4,356.1 468.6,363.4 478.8,367.8 490.5,373.6 503.4,380.9 507.2,385.7 516.0,389.4 524.3,393.0 530.0,397.8 535.1,401.0 540.2,404.8 544.0,409.3 547.2,413.7 551.0,418.2 554.2,423.3 556.1,428.3" fill="none" stroke="#ff0000" stroke-width="2.40" stroke-linejoin="round" stroke-linecap="round"/>
<polyline points="556.1,428.3 558.0,432.2 559.0,435.3 559.9,438.5 560.8,443.0 561.8,448.7 565.0,456.3 566.9,470.3 566.9,544.0" fill="none" stroke="#ff0000" stroke-width="1.20" stroke-linejoin="round" stroke-linecap="round" stroke-opacity="0.7"/>
<circle cx="556.1" cy="428.3" r="1.25" fill="#ff0000"/>
<circle cx="558.0" cy="432.2" r="1.25" fill="#ff0000"/>
<circle cx="559.0" cy="435.3" r="1.25" fill="#ff0000"/>
<circle cx="559.9" cy="438.5" r="1.25" fill="#ff0000"/>
<circle cx="560.8" cy="443.0" r="1.25" fill="#ff0000"/>
<circle cx="561.8" cy="448.7" r="1.25" fill="#ff0000"/>
<circle cx="565.0" cy="456.3" r="1.25" fill="#ff0000"/>
<circle cx="566.9" cy="470.3" r="1.25" fill="#ff0000"/>
<polyline points="409.9,316.6 417.5,324.0 429.2,331.3 440.9,338.6 452.6,344.4 464.2,348.8 475.9,353.2 487.6,357.6 501.9,361.9 510.7,366.3 518.0,371.4 525.3,377.2 530.0,382.5 535.1,387.6 540.2,395.3 543.4,405.4 545.9,413.1 548.4,420.7 549.7,428.3 550.4,434.7 551.6,442.3" fill="none" stroke="#800080" stroke-width="2.40" stroke-linejoin="round" stroke-linecap="round"/>
<polyline points="551.6,442.3 552.3,446.2 553.9,450.0 555.4,453.8 555.8,460.2 556.1,467.8 560.3,481.8 560.3,544.0" fill="none" stroke="#800080" stroke-width="1.20" stroke-linejoin="round" stroke-linecap="round" stroke-opacity="0.7"/>
<circle cx="551.6" cy="442.3" r="1.25" fill="#800080"/>
<circle cx="552.3" cy="446.2" r="1.25" fill="#800080"/>
<circle cx="553.9" cy="450.0" r="1.25" fill="#800080"/>
<circle cx="555.4" cy="453.8" r="1.25" fill="#800080"/>
<circle cx="555.8" cy="460.2" r="1.25" fill="#800080"/>
<circle cx="556.1" cy="467.8" r="1.25" fill="#800080"/>
<circle cx="560.3" cy="481.8" r="1.25" fill="#800080"/>
<polyline points="409.9,316.6 417.5,326.9 426.3,338.6 436.5,348.8 448.2,357.6 461.3,364.9 475.9,372.2 494.6,378.2 509.2,383.8 523.8,388.2 538.4,391.8 553.0,395.5 567.6,399.1 589.1,404.8 608.1,410.5 619.6,415.3 632.9,422.0 640.0,425.8 647.2,431.6 654.5,440.3 660.3,450.4" fill="none" stroke="#808080" stroke-width="3.20" stroke-linejoin="round" stroke-linecap="round"/>
<polyline points="660.3,450.4 663.2,462.0 665.3,475.0 666.8,483.7" fill="none" stroke="#808080" stroke-width="2.50" stroke-linejoin="round" stroke-linecap="round"/>
<polyline points="666.8,483.7 668.2,492.4 668.9,496.7 669.7,501.0 670.7,505.4 670.7,511.2 671.1,519.1 671.1,532.2 671.1,544.0" fill="none" stroke="#808080" stroke-width="1.20" stroke-linejoin="round" stroke-linecap="round" stroke-opacity="0.7"/>
<circle cx="666.8" cy="483.7" r="1.25" fill="#808080"/>
<circle cx="668.2" cy="492.4" r="1.25" fill="#808080"/>
<circle cx="668.9" cy="496.7" r="1.25" fill="#808080"/>
<circle cx="669.7" cy="501.0" r="1.25" fill="#808080"/>
<circle cx="670.7" cy="505.4" r="1.25" fill="#808080"/>
<circle cx="670.7" cy="511.2" r="1.25" fill="#808080"/>
<circle cx="671.1" cy="519.1" r="1.25" fill="#808080"/>
<circle cx="671.1" cy="532.2" r="1.25" fill="#808080"/>
</g>
<rect x="396.60" y="305.60" width="287.70" height="237.70" fill="none" stroke="#444" stroke-width="0.75"/>
<line x1="394.50" y1="498.50" x2="396.60" y2="498.50" stroke="#444" stroke-width="0.80"/>
<line x1="394.50" y1="453.00" x2="396.60" y2="453.00" stroke="#444" stroke-width="0.80"/>
<line x1="394.50" y1="407.50" x2="396.60" y2="407.50" stroke="#444" stroke-width="0.80"/>
<line x1="394.50" y1="362.00" x2="396.60" y2="362.00" stroke="#444" stroke-width="0.80"/>
<line x1="394.50" y1="316.50" x2="396.60" y2="316.50" stroke="#444" stroke-width="0.80"/>
<line x1="395.40" y1="530.30" x2="396.60" y2="530.30" stroke="#444" stroke-width="0.70"/>
<line x1="395.40" y1="522.29" x2="396.60" y2="522.29" stroke="#444" stroke-width="0.70"/>
<line x1="395.40" y1="516.61" x2="396.60" y2="516.61" stroke="#444" stroke-width="0.70"/>
<line x1="395.40" y1="512.20" x2="396.60" y2="512.20" stroke="#444" stroke-width="0.70"/>
<line x1="395.40" y1="508.59" x2="396.60" y2="508.59" stroke="#444" stroke-width="0.70"/>
<line x1="395.40" y1="505.55" x2="396.60" y2="505.55" stroke="#444" stroke-width="0.70"/>
<line x1="395.40" y1="502.91" x2="396.60" y2="502.91" stroke="#444" stroke-width="0.70"/>
<line x1="395.40" y1="500.58" x2="396.60" y2="500.58" stroke="#444" stroke-width="0.70"/>
<line x1="395.40" y1="484.80" x2="396.60" y2="484.80" stroke="#444" stroke-width="0.70"/>
<line x1="395.40" y1="476.79" x2="396.60" y2="476.79" stroke="#444" stroke-width="0.70"/>
<line x1="395.40" y1="471.11" x2="396.60" y2="471.11" stroke="#444" stroke-width="0.70"/>
<line x1="395.40" y1="466.70" x2="396.60" y2="466.70" stroke="#444" stroke-width="0.70"/>
<line x1="395.40" y1="463.09" x2="396.60" y2="463.09" stroke="#444" stroke-width="0.70"/>
<line x1="395.40" y1="460.05" x2="396.60" y2="460.05" stroke="#444" stroke-width="0.70"/>
<line x1="395.40" y1="457.41" x2="396.60" y2="457.41" stroke="#444" stroke-width="0.70"/>
<line x1="395.40" y1="455.08" x2="396.60" y2="455.08" stroke="#444" stroke-width="0.70"/>
<line x1="395.40" y1="439.30" x2="396.60" y2="439.30" stroke="#444" stroke-width="0.70"/>
<line x1="395.40" y1="431.29" x2="396.60" y2="431.29" stroke="#444" stroke-width="0.70"/>
<line x1="395.40" y1="425.61" x2="396.60" y2="425.61" stroke="#444" stroke-width="0.70"/>
<line x1="395.40" y1="421.20" x2="396.60" y2="421.20" stroke="#444" stroke-width="0.70"/>
<line x1="395.40" y1="417.59" x2="396.60" y2="417.59" stroke="#444" stroke-width="0.70"/>
<line x1="395.40" y1="414.55" x2="396.60" y2="414.55" stroke="#444" stroke-width="0.70"/>
<line x1="395.40" y1="411.91" x2="396.60" y2="411.91" stroke="#444" stroke-width="0.70"/>
<line x1="395.40" y1="409.58" x2="396.60" y2="409.58" stroke="#444" stroke-width="0.70"/>
<line x1="395.40" y1="393.80" x2="396.60" y2="393.80" stroke="#444" stroke-width="0.70"/>
<line x1="395.40" y1="385.79" x2="396.60" y2="385.79" stroke="#444" stroke-width="0.70"/>
<line x1="395.40" y1="380.11" x2="396.60" y2="380.11" stroke="#444" stroke-width="0.70"/>
<line x1="395.40" y1="375.70" x2="396.60" y2="375.70" stroke="#444" stroke-width="0.70"/>
<line x1="395.40" y1="372.09" x2="396.60" y2="372.09" stroke="#444" stroke-width="0.70"/>
<line x1="395.40" y1="369.05" x2="396.60" y2="369.05" stroke="#444" stroke-width="0.70"/>
<line x1="395.40" y1="366.41" x2="396.60" y2="366.41" stroke="#444" stroke-width="0.70"/>
<line x1="395.40" y1="364.08" x2="396.60" y2="364.08" stroke="#444" stroke-width="0.70"/>
<line x1="395.40" y1="348.30" x2="396.60" y2="348.30" stroke="#444" stroke-width="0.70"/>
<line x1="395.40" y1="340.29" x2="396.60" y2="340.29" stroke="#444" stroke-width="0.70"/>
<line x1="395.40" y1="334.61" x2="396.60" y2="334.61" stroke="#444" stroke-width="0.70"/>
<line x1="395.40" y1="330.20" x2="396.60" y2="330.20" stroke="#444" stroke-width="0.70"/>
<line x1="395.40" y1="326.59" x2="396.60" y2="326.59" stroke="#444" stroke-width="0.70"/>
<line x1="395.40" y1="323.55" x2="396.60" y2="323.55" stroke="#444" stroke-width="0.70"/>
<line x1="395.40" y1="320.91" x2="396.60" y2="320.91" stroke="#444" stroke-width="0.70"/>
<line x1="395.40" y1="318.58" x2="396.60" y2="318.58" stroke="#444" stroke-width="0.70"/>
<text x="366.96" y="502.80" font-size="12.10" textLength="13.87" lengthAdjust="spacingAndGlyphs" fill="#1a1a1a">10</text>
<text x="381.15" y="498.66" font-size="8.47" textLength="11.25" lengthAdjust="spacingAndGlyphs" fill="#1a1a1a">−4</text>
<text x="366.96" y="457.30" font-size="12.10" textLength="13.87" lengthAdjust="spacingAndGlyphs" fill="#1a1a1a">10</text>
<text x="381.15" y="453.16" font-size="8.47" textLength="11.25" lengthAdjust="spacingAndGlyphs" fill="#1a1a1a">−3</text>
<text x="366.96" y="411.80" font-size="12.10" textLength="13.87" lengthAdjust="spacingAndGlyphs" fill="#1a1a1a">10</text>
<text x="381.15" y="407.66" font-size="8.47" textLength="11.25" lengthAdjust="spacingAndGlyphs" fill="#1a1a1a">−2</text>
<text x="366.96" y="366.30" font-size="12.10" textLength="13.87" lengthAdjust="spacingAndGlyphs" fill="#1a1a1a">10</text>
<text x="381.15" y="362.16" font-size="8.47" textLength="11.25" lengthAdjust="spacingAndGlyphs" fill="#1a1a1a">−1</text>
<text x="373.35" y="320.80" font-size="12.10" textLength="13.87" lengthAdjust="spacingAndGlyphs" fill="#1a1a1a">10</text>
<text x="387.55" y="316.66" font-size="8.47" textLength="4.85" lengthAdjust="spacingAndGlyphs" fill="#1a1a1a">0</text>
<line x1="409.80" y1="543.30" x2="409.80" y2="545.50" stroke="#444" stroke-width="0.80"/>
<line x1="458.40" y1="543.30" x2="458.40" y2="545.50" stroke="#444" stroke-width="0.80"/>
<line x1="507.00" y1="543.30" x2="507.00" y2="545.50" stroke="#444" stroke-width="0.80"/>
<line x1="555.60" y1="543.30" x2="555.60" y2="545.50" stroke="#444" stroke-width="0.80"/>
<line x1="604.20" y1="543.30" x2="604.20" y2="545.50" stroke="#444" stroke-width="0.80"/>
<line x1="652.80" y1="543.30" x2="652.80" y2="545.50" stroke="#444" stroke-width="0.80"/>
<text x="409.80" y="555.90" font-size="12.10" textLength="6.94" lengthAdjust="spacingAndGlyphs" text-anchor="middle" fill="#1a1a1a">0</text>
<text x="458.40" y="555.90" font-size="12.10" textLength="13.87" lengthAdjust="spacingAndGlyphs" text-anchor="middle" fill="#1a1a1a">10</text>
<text x="507.00" y="555.90" font-size="12.10" textLength="13.87" lengthAdjust="spacingAndGlyphs" text-anchor="middle" fill="#1a1a1a">20</text>
<text x="555.60" y="555.90" font-size="12.10" textLength="13.87" lengthAdjust="spacingAndGlyphs" text-anchor="middle" fill="#1a1a1a">30</text>
<text x="604.20" y="555.90" font-size="12.10" textLength="13.87" lengthAdjust="spacingAndGlyphs" text-anchor="middle" fill="#1a1a1a">40</text>
<text x="652.80" y="555.90" font-size="12.10" textLength="13.87" lengthAdjust="spacingAndGlyphs" text-anchor="middle" fill="#1a1a1a">50</text>
<text x="540.70" y="569.30" font-size="12.32" textLength="49.38" lengthAdjust="spacingAndGlyphs" text-anchor="middle" fill="#1a1a1a">potential</text>
<text x="362.20" y="425.60" font-size="12.21" textLength="22.48" lengthAdjust="spacingAndGlyphs" text-anchor="middle" transform="rotate(-90 362.20 425.60)" fill="#1a1a1a">CDF</text>
<text x="540.50" y="302.00" font-size="13.10" textLength="16.70" lengthAdjust="spacingAndGlyphs" text-anchor="middle" fill="#1a1a1a">(d)</text>
<rect x="608.40" y="309.70" width="72.10" height="71.70" rx="1.5" fill="#fff" fill-opacity="0.8" stroke="#d9d9d9" stroke-width="0.8"/>
<line x1="611.20" y1="316.50" x2="627.70" y2="316.50" stroke="#0000ff" stroke-width="1.40" stroke-opacity="0.60"/>
<circle cx="619.4" cy="316.5" r="1.25" fill="#0000ff"/>
<text x="634.10" y="319.38" font-size="8.88" textLength="22.32" lengthAdjust="spacingAndGlyphs" fill="#1a1a1a">Kyoto</text>
<line x1="611.20" y1="327.80" x2="627.70" y2="327.80" stroke="#ffa500" stroke-width="1.40" stroke-opacity="0.60"/>
<circle cx="619.4" cy="327.8" r="1.25" fill="#ffa500"/>
<text x="634.10" y="330.68" font-size="8.88" textLength="27.27" lengthAdjust="spacingAndGlyphs" fill="#1a1a1a">Sendai</text>
<line x1="611.20" y1="339.40" x2="627.70" y2="339.40" stroke="#008000" stroke-width="1.40" stroke-opacity="0.60"/>
<circle cx="619.4" cy="339.4" r="1.25" fill="#008000"/>
<text x="634.10" y="342.28" font-size="8.88" textLength="43.33" lengthAdjust="spacingAndGlyphs" fill="#1a1a1a">Kumamoto</text>
<line x1="611.20" y1="351.10" x2="627.70" y2="351.10" stroke="#ff0000" stroke-width="1.40" stroke-opacity="0.60"/>
<circle cx="619.4" cy="351.1" r="1.25" fill="#ff0000"/>
<text x="634.10" y="353.98" font-size="8.88" textLength="33.04" lengthAdjust="spacingAndGlyphs" fill="#1a1a1a">Sapporo</text>
<line x1="611.20" y1="362.80" x2="627.70" y2="362.80" stroke="#800080" stroke-width="1.40" stroke-opacity="0.60"/>
<circle cx="619.4" cy="362.8" r="1.25" fill="#800080"/>
<text x="634.10" y="365.68" font-size="8.88" textLength="24.76" lengthAdjust="spacingAndGlyphs" fill="#1a1a1a">Osaka</text>
<line x1="611.20" y1="374.00" x2="627.70" y2="374.00" stroke="#808080" stroke-width="1.40" stroke-opacity="0.60"/>
<circle cx="619.4" cy="374.0" r="1.25" fill="#808080"/>
<text x="634.10" y="376.88" font-size="8.88" textLength="22.40" lengthAdjust="spacingAndGlyphs" fill="#1a1a1a">Tokyo</text>
<polyline points="55.8,655.6 108.3,654.2 160.8,635.3 213.3,630.9 265.8,620.0 318.3,609.3" fill="none" stroke="#0000ff" stroke-width="1.65" stroke-linejoin="round" stroke-linecap="butt" stroke-dasharray="5.9 2.6"/>
<circle cx="55.8" cy="655.6" r="1.30" fill="#0000ff"/>
<circle cx="108.3" cy="654.2" r="1.30" fill="#0000ff"/>
<circle cx="160.8" cy="635.3" r="1.30" fill="#0000ff"/>
<circle cx="213.3" cy="630.9" r="1.30" fill="#0000ff"/>
<circle cx="265.8" cy="620.0" r="1.30" fill="#0000ff"/>
<circle cx="318.3" cy="609.3" r="1.30" fill="#0000ff"/>
<polyline points="55.8,674.6 108.3,677.6 160.8,676.5 213.3,672.8 265.8,670.6 318.3,670.4" fill="none" stroke="#008000" stroke-width="1.65" stroke-linejoin="round" stroke-linecap="butt" stroke-dasharray="5.9 2.6"/>
<circle cx="55.8" cy="674.6" r="1.30" fill="#008000"/>
<circle cx="108.3" cy="677.6" r="1.30" fill="#008000"/>
<circle cx="160.8" cy="676.5" r="1.30" fill="#008000"/>
<circle cx="213.3" cy="672.8" r="1.30" fill="#008000"/>
<circle cx="265.8" cy="670.6" r="1.30" fill="#008000"/>
<circle cx="318.3" cy="670.4" r="1.30" fill="#008000"/>
<polyline points="55.8,658.6 108.3,658.3 160.8,661.2 213.3,640.8 265.8,639.7 318.3,617.4" fill="none" stroke="#ff0000" stroke-width="1.65" stroke-linejoin="round" stroke-linecap="butt" stroke-dasharray="5.9 2.6"/>
<circle cx="55.8" cy="658.6" r="1.30" fill="#ff0000"/>
<circle cx="108.3" cy="658.3" r="1.30" fill="#ff0000"/>
<circle cx="160.8" cy="661.2" r="1.30" fill="#ff0000"/>
<circle cx="213.3" cy="640.8" r="1.30" fill="#ff0000"/>
<circle cx="265.8" cy="639.7" r="1.30" fill="#ff0000"/>
<circle cx="318.3" cy="617.4" r="1.30" fill="#ff0000"/>
<polyline points="55.8,735.2 108.3,734.3 160.8,745.7 213.3,767.6 265.8,765.0 318.3,825.2" fill="none" stroke="#0000ff" stroke-width="1.65" stroke-linejoin="round" stroke-linecap="butt" stroke-dasharray="1.6 2.5"/>
<circle cx="55.8" cy="735.2" r="1.30" fill="#0000ff"/>
<circle cx="108.3" cy="734.3" r="1.30" fill="#0000ff"/>
<circle cx="160.8" cy="745.7" r="1.30" fill="#0000ff"/>
<circle cx="213.3" cy="767.6" r="1.30" fill="#0000ff"/>
<circle cx="265.8" cy="765.0" r="1.30" fill="#0000ff"/>
<circle cx="318.3" cy="825.2" r="1.30" fill="#0000ff"/>
<polyline points="55.8,684.6 108.3,682.7 160.8,682.5 213.3,686.5 265.8,686.5 318.3,689.6" fill="none" stroke="#008000" stroke-width="1.65" stroke-linejoin="round" stroke-linecap="butt" stroke-dasharray="1.6 2.5"/>
<circle cx="55.8" cy="684.6" r="1.30" fill="#008000"/>
<circle cx="108.3" cy="682.7" r="1.30" fill="#008000"/>
<circle cx="160.8" cy="682.5" r="1.30" fill="#008000"/>
<circle cx="213.3" cy="686.5" r="1.30" fill="#008000"/>
<circle cx="265.8" cy="686.5" r="1.30" fill="#008000"/>
<circle cx="318.3" cy="689.6" r="1.30" fill="#008000"/>
<polyline points="55.8,686.6 108.3,699.7 160.8,696.8 213.3,705.2 265.8,707.8 318.3,715.7" fill="none" stroke="#ff0000" stroke-width="1.65" stroke-linejoin="round" stroke-linecap="butt" stroke-dasharray="1.6 2.5"/>
<circle cx="55.8" cy="686.6" r="1.30" fill="#ff0000"/>
<circle cx="108.3" cy="699.7" r="1.30" fill="#ff0000"/>
<circle cx="160.8" cy="696.8" r="1.30" fill="#ff0000"/>
<circle cx="213.3" cy="705.2" r="1.30" fill="#ff0000"/>
<circle cx="265.8" cy="707.8" r="1.30" fill="#ff0000"/>
<circle cx="318.3" cy="715.7" r="1.30" fill="#ff0000"/>
<rect x="42.90" y="598.40" width="287.50" height="237.50" fill="none" stroke="#444" stroke-width="0.75"/>
<line x1="40.70" y1="625.98" x2="42.90" y2="625.98" stroke="#444" stroke-width="0.80"/>
<line x1="40.70" y1="653.19" x2="42.90" y2="653.19" stroke="#444" stroke-width="0.80"/>
<line x1="40.70" y1="680.40" x2="42.90" y2="680.40" stroke="#444" stroke-width="0.80"/>
<line x1="40.70" y1="707.61" x2="42.90" y2="707.61" stroke="#444" stroke-width="0.80"/>
<line x1="40.70" y1="734.82" x2="42.90" y2="734.82" stroke="#444" stroke-width="0.80"/>
<line x1="40.70" y1="762.03" x2="42.90" y2="762.03" stroke="#444" stroke-width="0.80"/>
<line x1="40.70" y1="789.24" x2="42.90" y2="789.24" stroke="#444" stroke-width="0.80"/>
<line x1="40.70" y1="816.45" x2="42.90" y2="816.45" stroke="#444" stroke-width="0.80"/>
<text x="38.40" y="630.38" font-size="12.10" textLength="13.87" lengthAdjust="spacingAndGlyphs" text-anchor="end" fill="#1a1a1a">20</text>
<text x="38.40" y="657.59" font-size="12.10" textLength="13.87" lengthAdjust="spacingAndGlyphs" text-anchor="end" fill="#1a1a1a">10</text>
<text x="38.40" y="684.80" font-size="12.10" textLength="6.94" lengthAdjust="spacingAndGlyphs" text-anchor="end" fill="#1a1a1a">0</text>
<text x="38.40" y="712.01" font-size="12.10" textLength="23.00" lengthAdjust="spacingAndGlyphs" text-anchor="end" fill="#1a1a1a">−10</text>
<text x="38.40" y="739.22" font-size="12.10" textLength="23.00" lengthAdjust="spacingAndGlyphs" text-anchor="end" fill="#1a1a1a">−20</text>
<text x="38.40" y="766.43" font-size="12.10" textLength="23.00" lengthAdjust="spacingAndGlyphs" text-anchor="end" fill="#1a1a1a">−30</text>
<text x="38.40" y="793.64" font-size="12.10" textLength="23.00" lengthAdjust="spacingAndGlyphs" text-anchor="end" fill="#1a1a1a">−40</text>
<text x="38.40" y="820.85" font-size="12.10" textLength="23.00" lengthAdjust="spacingAndGlyphs" text-anchor="end" fill="#1a1a1a">−50</text>
<line x1="55.80" y1="835.90" x2="55.80" y2="838.10" stroke="#444" stroke-width="0.80"/>
<line x1="108.30" y1="835.90" x2="108.30" y2="838.10" stroke="#444" stroke-width="0.80"/>
<line x1="160.80" y1="835.90" x2="160.80" y2="838.10" stroke="#444" stroke-width="0.80"/>
<line x1="213.30" y1="835.90" x2="213.30" y2="838.10" stroke="#444" stroke-width="0.80"/>
<line x1="265.80" y1="835.90" x2="265.80" y2="838.10" stroke="#444" stroke-width="0.80"/>
<line x1="318.30" y1="835.90" x2="318.30" y2="838.10" stroke="#444" stroke-width="0.80"/>
<text x="55.80" y="846.50" font-size="8.77" textLength="22.05" lengthAdjust="spacingAndGlyphs" text-anchor="middle" fill="#1a1a1a">Kyoto</text>
<text x="108.30" y="846.50" font-size="8.77" textLength="26.93" lengthAdjust="spacingAndGlyphs" text-anchor="middle" fill="#1a1a1a">Sendai</text>
<text x="160.80" y="846.50" font-size="8.77" textLength="42.79" lengthAdjust="spacingAndGlyphs" text-anchor="middle" fill="#1a1a1a">Kumamoto</text>
<text x="213.30" y="846.50" font-size="8.77" textLength="32.63" lengthAdjust="spacingAndGlyphs" text-anchor="middle" fill="#1a1a1a">Sapporo</text>
<text x="265.80" y="846.50" font-size="8.77" textLength="24.45" lengthAdjust="spacingAndGlyphs" text-anchor="middle" fill="#1a1a1a">Osaka</text>
<text x="318.30" y="846.50" font-size="8.77" textLength="22.12" lengthAdjust="spacingAndGlyphs" text-anchor="middle" fill="#1a1a1a">Tokyo</text>
<text x="186.70" y="859.90" font-size="13.32" textLength="21.74" lengthAdjust="spacingAndGlyphs" text-anchor="middle" fill="#1a1a1a">city</text>
<text x="11.20" y="718.20" font-size="13.32" textLength="53.38" lengthAdjust="spacingAndGlyphs" text-anchor="middle" transform="rotate(-90 11.20 718.20)" fill="#1a1a1a">potential</text>
<text x="186.70" y="594.90" font-size="13.10" textLength="16.47" lengthAdjust="spacingAndGlyphs" text-anchor="middle" fill="#1a1a1a">(e)</text>
<rect x="46.60" y="771.60" width="82.70" height="60.80" rx="1.5" fill="#fff" fill-opacity="0.8" stroke="#d9d9d9" stroke-width="0.8"/>
<line x1="49.00" y1="777.00" x2="62.90" y2="777.00" stroke="#0000ff" stroke-width="1.65"/>
<circle cx="55.9" cy="777.0" r="1.45" fill="#0000ff"/>
<text x="68.50" y="779.45" font-size="7.55" textLength="49.97" lengthAdjust="spacingAndGlyphs" fill="#1a1a1a">7:30-8:30 max</text>
<line x1="49.00" y1="786.90" x2="62.90" y2="786.90" stroke="#008000" stroke-width="1.65"/>
<circle cx="55.9" cy="786.9" r="1.45" fill="#008000"/>
<text x="68.50" y="789.35" font-size="7.55" textLength="58.63" lengthAdjust="spacingAndGlyphs" fill="#1a1a1a">13:30-14:00 max</text>
<line x1="49.00" y1="796.70" x2="62.90" y2="796.70" stroke="#ff0000" stroke-width="1.65"/>
<circle cx="55.9" cy="796.7" r="1.45" fill="#ff0000"/>
<text x="68.50" y="799.15" font-size="7.55" textLength="58.63" lengthAdjust="spacingAndGlyphs" fill="#1a1a1a">18:30-19:00 max</text>
<line x1="49.00" y1="806.60" x2="62.90" y2="806.60" stroke="#0000ff" stroke-width="1.65" stroke-dasharray="1.6 2.5"/>
<circle cx="55.9" cy="806.6" r="1.45" fill="#0000ff"/>
<text x="68.50" y="809.05" font-size="7.55" textLength="47.98" lengthAdjust="spacingAndGlyphs" fill="#1a1a1a">7:30-8:00 min</text>
<line x1="49.00" y1="816.40" x2="62.90" y2="816.40" stroke="#008000" stroke-width="1.65" stroke-dasharray="1.6 2.5"/>
<circle cx="55.9" cy="816.4" r="1.45" fill="#008000"/>
<text x="68.50" y="818.85" font-size="7.55" textLength="56.63" lengthAdjust="spacingAndGlyphs" fill="#1a1a1a">13:30-14:00 min</text>
<line x1="49.00" y1="826.30" x2="62.90" y2="826.30" stroke="#ff0000" stroke-width="1.65" stroke-dasharray="1.6 2.5"/>
<circle cx="55.9" cy="826.3" r="1.45" fill="#ff0000"/>
<text x="68.50" y="828.75" font-size="7.55" textLength="56.63" lengthAdjust="spacingAndGlyphs" fill="#1a1a1a">18:30-19:00 min</text>
<rect x="396.80" y="598.70" width="287.60" height="237.30" fill="none" stroke="#444" stroke-width="0.75"/>
<line x1="409.50" y1="823.50" x2="671.70" y2="608.80" stroke="#1a1a1a" stroke-width="1.15"/>
<circle cx="442.6" cy="813.9" r="2.10" fill="#0000ff"/>
<circle cx="420.8" cy="825.0" r="2.10" fill="#ffa500"/>
<circle cx="486.1" cy="745.5" r="2.10" fill="#008000"/>
<circle cx="497.1" cy="739.9" r="2.10" fill="#ff0000"/>
<circle cx="508.0" cy="729.4" r="2.10" fill="#800080"/>
<circle cx="638.8" cy="648.6" r="2.10" fill="#808080"/>
<text x="443.20" y="810.80" font-size="9.99" textLength="25.11" lengthAdjust="spacingAndGlyphs" fill="#1a1a1a">Kyoto</text>
<text x="421.60" y="822.10" font-size="9.99" textLength="30.68" lengthAdjust="spacingAndGlyphs" fill="#1a1a1a">Sendai</text>
<text x="483.30" y="745.90" font-size="9.99" textLength="48.75" lengthAdjust="spacingAndGlyphs" text-anchor="end" fill="#1a1a1a">Kumamoto</text>
<text x="498.20" y="734.50" font-size="9.99" textLength="37.17" lengthAdjust="spacingAndGlyphs" text-anchor="end" fill="#1a1a1a">Sapporo</text>
<text x="498.70" y="724.00" font-size="9.99" textLength="27.86" lengthAdjust="spacingAndGlyphs" fill="#1a1a1a">Osaka</text>
<text x="640.30" y="643.00" font-size="9.99" textLength="25.20" lengthAdjust="spacingAndGlyphs" fill="#1a1a1a">Tokyo</text>
<text x="567.20" y="701.60" font-size="9.99" textLength="49.88" lengthAdjust="spacingAndGlyphs" fill="#1a1a1a">slope: 5.06</text>
<line x1="394.60" y1="810.20" x2="396.80" y2="810.20" stroke="#444" stroke-width="0.80"/>
<line x1="394.60" y1="775.00" x2="396.80" y2="775.00" stroke="#444" stroke-width="0.80"/>
<line x1="394.60" y1="739.80" x2="396.80" y2="739.80" stroke="#444" stroke-width="0.80"/>
<line x1="394.60" y1="704.60" x2="396.80" y2="704.60" stroke="#444" stroke-width="0.80"/>
<line x1="394.60" y1="669.40" x2="396.80" y2="669.40" stroke="#444" stroke-width="0.80"/>
<line x1="394.60" y1="634.20" x2="396.80" y2="634.20" stroke="#444" stroke-width="0.80"/>
<line x1="394.60" y1="599.00" x2="396.80" y2="599.00" stroke="#444" stroke-width="0.80"/>
<text x="392.00" y="814.60" font-size="12.10" textLength="13.87" lengthAdjust="spacingAndGlyphs" text-anchor="end" fill="#1a1a1a">30</text>
<text x="392.00" y="779.40" font-size="12.10" textLength="13.87" lengthAdjust="spacingAndGlyphs" text-anchor="end" fill="#1a1a1a">40</text>
<text x="392.00" y="744.20" font-size="12.10" textLength="13.87" lengthAdjust="spacingAndGlyphs" text-anchor="end" fill="#1a1a1a">50</text>
<text x="392.00" y="709.00" font-size="12.10" textLength="13.87" lengthAdjust="spacingAndGlyphs" text-anchor="end" fill="#1a1a1a">60</text>
<text x="392.00" y="673.80" font-size="12.10" textLength="13.87" lengthAdjust="spacingAndGlyphs" text-anchor="end" fill="#1a1a1a">70</text>
<text x="392.00" y="638.60" font-size="12.10" textLength="13.87" lengthAdjust="spacingAndGlyphs" text-anchor="end" fill="#1a1a1a">80</text>
<text x="392.00" y="603.40" font-size="12.10" textLength="13.87" lengthAdjust="spacingAndGlyphs" text-anchor="end" fill="#1a1a1a">90</text>
<line x1="398.60" y1="836.00" x2="398.60" y2="838.20" stroke="#444" stroke-width="0.80"/>
<line x1="442.26" y1="836.00" x2="442.26" y2="838.20" stroke="#444" stroke-width="0.80"/>
<line x1="485.92" y1="836.00" x2="485.92" y2="838.20" stroke="#444" stroke-width="0.80"/>
<line x1="529.58" y1="836.00" x2="529.58" y2="838.20" stroke="#444" stroke-width="0.80"/>
<line x1="573.24" y1="836.00" x2="573.24" y2="838.20" stroke="#444" stroke-width="0.80"/>
<line x1="616.90" y1="836.00" x2="616.90" y2="838.20" stroke="#444" stroke-width="0.80"/>
<line x1="660.56" y1="836.00" x2="660.56" y2="838.20" stroke="#444" stroke-width="0.80"/>
<text x="398.60" y="848.50" font-size="12.10" textLength="6.94" lengthAdjust="spacingAndGlyphs" text-anchor="middle" fill="#1a1a1a">4</text>
<text x="442.26" y="848.50" font-size="12.10" textLength="6.94" lengthAdjust="spacingAndGlyphs" text-anchor="middle" fill="#1a1a1a">6</text>
<text x="485.92" y="848.50" font-size="12.10" textLength="6.94" lengthAdjust="spacingAndGlyphs" text-anchor="middle" fill="#1a1a1a">8</text>
<text x="529.58" y="848.50" font-size="12.10" textLength="13.87" lengthAdjust="spacingAndGlyphs" text-anchor="middle" fill="#1a1a1a">10</text>
<text x="573.24" y="848.50" font-size="12.10" textLength="13.87" lengthAdjust="spacingAndGlyphs" text-anchor="middle" fill="#1a1a1a">12</text>
<text x="616.90" y="848.50" font-size="12.10" textLength="13.87" lengthAdjust="spacingAndGlyphs" text-anchor="middle" fill="#1a1a1a">14</text>
<text x="660.56" y="848.50" font-size="12.10" textLength="13.87" lengthAdjust="spacingAndGlyphs" text-anchor="middle" fill="#1a1a1a">16</text>
<text x="540.10" y="861.70" font-size="13.43" textLength="127.78" lengthAdjust="spacingAndGlyphs" text-anchor="middle" fill="#1a1a1a">radius of center (km)</text>
<text x="372.80" y="717.90" font-size="13.32" textLength="107.47" lengthAdjust="spacingAndGlyphs" text-anchor="middle" transform="rotate(-90 372.80 717.90)" fill="#1a1a1a">range of potential</text>
<text x="540.50" y="594.90" font-size="13.10" textLength="13.36" lengthAdjust="spacingAndGlyphs" text-anchor="middle" fill="#1a1a1a">(f)</text>
</svg>
</body></html>
